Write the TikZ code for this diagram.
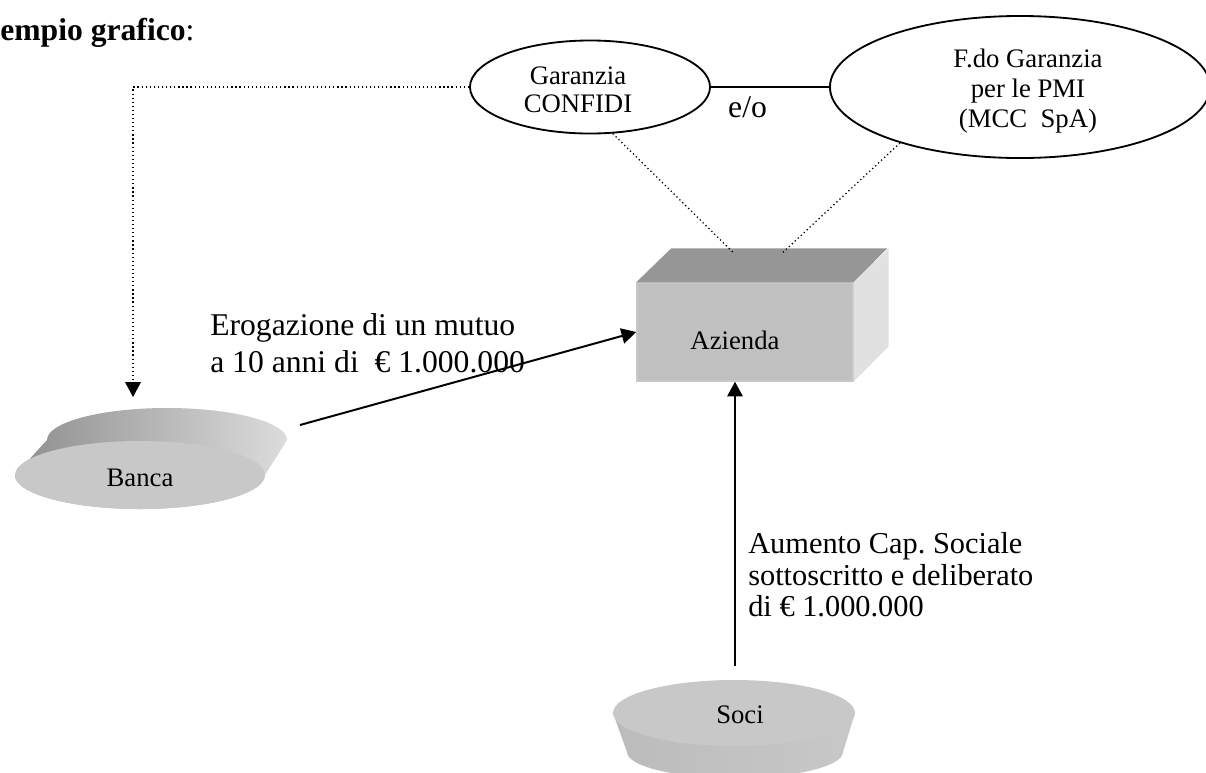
\documentclass[tikz,border=0pt]{standalone}
\usepackage{fontspec}
\setmainfont{Liberation Serif}
\usetikzlibrary{shapes.geometric, arrows.meta, calc}

\definecolor{facegray}{HTML}{C8C8C8}
\definecolor{boxfront}{HTML}{C0C0C0}
\definecolor{boxtop}{HTML}{969696}
\definecolor{boxside}{HTML}{E1E1E1}
\definecolor{rimdark}{HTML}{8E8E8E}
\definecolor{rimlight}{HTML}{DCDCDC}

\begin{document}
\begin{tikzpicture}[x=0.025cm, y=-0.025cm,
    big/.style={font=\fontsize{22.5}{26.3}\selectfont},
    small/.style={font=\fontsize{19}{21.3}\selectfont},
    guar/.style={draw, line width=1.3pt, ellipse, inner sep=0pt},
    link/.style={line width=0.9pt, dotted},
    flow/.style={line width=1.4pt, -{Triangle[length=10.5pt, width=11pt]}}]

    \useasboundingbox (0,0) rectangle (1206,772);

    \node (title) [big, anchor=base west, inner sep=0pt] at (0,40) {\textbf{empio grafico}:};

    \node (conf) [guar, minimum width=6cm, minimum height=2.325cm] at (590,87) {};
    \node (conftext) [font=\fontsize{19}{19.3}\selectfont, anchor=north, align=center, inner sep=0pt] at (578,67) {Garanzia\\CONFIDI};
    \node (fdo) [guar, minimum width=9.5cm, minimum height=3.55cm] at (1020,87) {};
    \node (fdotext) [small, anchor=north, align=center, inner sep=0pt] at (1028,49) {F.do Garanzia\\per le PMI\\(MCC\ \ SpA)};
    \draw[line width=1.3pt] (conf) -- (fdo) node (eo) [big, pos=0.31, below=5pt, inner sep=1pt] {e/o};

    % azienda as a box
    \node (azienda) [fill=boxfront, draw=facegray, line width=1pt, minimum width=5.4cm, minimum height=2.45cm, inner sep=0pt] at (745,332) {};
    \fill[boxtop] (azienda.north west) -- ++(35,-34) -- ++(216,0) -- (azienda.north east) -- cycle;
    \fill[boxside] (azienda.north east) -- ++(35,-34) -- ++(0,98) -- (azienda.south east) -- cycle;
    \node (aziendatext) [small] at (735,340) {Azienda};
    \coordinate (topa) at ($(azienda.north)+(-12,-30)$);
    \coordinate (topb) at ($(azienda.north)+(38,-30)$);

    % banca disc
    \shade[left color=rimdark, right color=rimlight] (47,440) arc[start angle=180, end angle=360, x radius=120, y radius=32]
        -- (265,475) arc[start angle=0, end angle=180, x radius=125, y radius=34] -- cycle;
    \fill[facegray] (140,475) ellipse [x radius=125, y radius=34];
    \node (banca) [small] at (140,478) {Banca};
    \coordinate (bancatop) at (133,397);
    \coordinate (bancaout) at (300,425);

    % soci disc
    \shade[left color=rimdark!60!white, right color=facegray] (613,713) -- (627,752) arc[start angle=180, end angle=0, x radius=108, y radius=26]
        -- (855,713) -- cycle;
    \fill[facegray] (734,713) ellipse [x radius=121, y radius=33];
    \node (soci) [small] at (740,715) {Soci};
    \coordinate (sociout) at (735,666);

    \draw[link, -{Triangle[length=10.5pt, width=11pt]}] (conf.west) -| (bancatop);
    \draw[link] (conf.-64) -- (topa);
    \draw[link] (fdo.-155) -- (topb);

    \draw[flow] (bancaout) -- (azienda.west);
    \draw[flow] (sociout) -- (sociout |- azienda.south);

    \node (erog) [big, anchor=north west, align=left, inner sep=0pt] at (210,313) {Erogazione di un mutuo\\a 10 anni di\ \ € 1.000.000};
    \node (aumento) [font=\fontsize{21.6}{22.6}\selectfont, anchor=north west, align=left, inner sep=0pt] at (748,532) {Aumento Cap.\ Sociale\\sottoscritto e deliberato\\di € 1.000.000};

\end{tikzpicture}
\end{document}
